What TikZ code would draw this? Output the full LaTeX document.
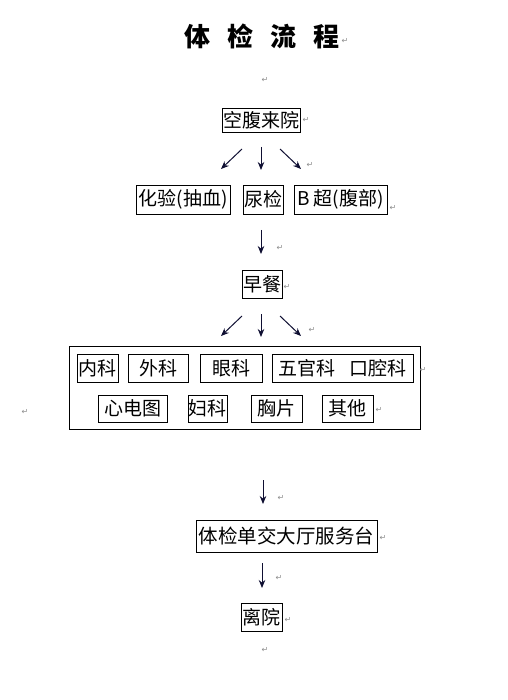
\documentclass[tikz,border=0pt]{standalone}
\usepackage{fontspec}
\setmainfont{Noto Sans CJK SC}
\newfontfamily\cjk{Noto Sans CJK SC}
\newfontfamily\parafont{DejaVu Sans}
\usetikzlibrary{arrows.meta}
\definecolor{arrowNavy}{RGB}{15, 15, 50}
\definecolor{markGray}{RGB}{140, 140, 140}

\begin{document}
\begin{tikzpicture}[x=1pt, y=-1pt,
    stepbox/.style={draw, line width=0.9pt, inner sep=0pt, font=\cjk\fontsize{19}{19}\selectfont},
    flow/.style={arrowNavy, line width=1pt, -{Stealth[length=8pt, width=6.5pt]}},
    retmark/.style={markGray, inner sep=0pt, font=\parafont\fontsize{8}{8}\selectfont}]
      \useasboundingbox (0,0) rectangle (507,700);

      % Title
      \node[inner sep=0pt, font=\cjk\bfseries\fontsize{26}{26}\selectfont] (title) at (262,36)
        {体\hspace{17pt}检\hspace{17pt}流\hspace{17pt}程};

      % Arrival and first tests
      \node[stepbox, minimum width=78pt, minimum height=24pt] (arrive) at (261,120) {空腹来院};
      \node[stepbox, minimum width=94pt, minimum height=29pt] (blood) at (183,199.5) {化验(抽血)};
      \node[stepbox, minimum width=40pt, minimum height=29pt] (urine) at (263,199.5) {尿检};
      \node[stepbox, minimum width=93pt, minimum height=29pt] (bscan) at (340.5,199.5) {B 超(腹部)};

      % Breakfast
      \node[stepbox, minimum width=40pt, minimum height=28pt] (meal) at (262,284) {早餐};

      % Departments
      \node[draw, line width=0.9pt, minimum width=351pt, minimum height=83pt] (dept) at (244.5,387.5) {};
      \node[stepbox, minimum width=41pt, minimum height=28pt] (inner) at (97.5,368) {内科};
      \node[stepbox, minimum width=60pt, minimum height=28pt] (surg) at (158,368) {外科};
      \node[stepbox, minimum width=62pt, minimum height=28pt] (eye) at (231,368) {眼科};
      \node[stepbox, minimum width=141pt, minimum height=28pt] (ent) at (342.5,368) {五官科\hspace{14pt}口腔科};
      \node[stepbox, minimum width=69pt, minimum height=27pt] (ecg) at (132.5,408.5) {心电图};
      \node[stepbox, minimum width=39pt, minimum height=27pt] (gyn) at (207.5,408.5) {妇科};
      \node[stepbox, minimum width=51pt, minimum height=27pt] (xray) at (276.5,408.5) {胸片};
      \node[stepbox, minimum width=51pt, minimum height=27pt] (other) at (347.5,408.5) {其他};

      % Hand in and leave
      \node[stepbox, minimum width=181pt, minimum height=32pt, font=\cjk\fontsize{19.5}{19.5}\selectfont] (desk) at (286.5,536) {体检单交大厅服务台};
      \node[stepbox, minimum width=41pt, minimum height=28pt] (leave) at (261.5,617) {离院};

      % Arrow ends
      \coordinate (fanAl) at (242,149);  \coordinate (fanBl) at (221,169);
      \coordinate (fanAm) at (261,147);  \coordinate (fanBm) at (261,170);
      \coordinate (fanAr) at (280,149);  \coordinate (fanBr) at (301,169);
      \coordinate (downA) at (261,230);  \coordinate (downB) at (261,254);
      \coordinate (fanCl) at (242,316);  \coordinate (fanDl) at (221,336);
      \coordinate (fanCm) at (261,314);  \coordinate (fanDm) at (261,337);
      \coordinate (fanCr) at (280,316);  \coordinate (fanDr) at (301,336);
      \coordinate (downC) at (263,480);  \coordinate (downD) at (263,504);
      \coordinate (downE) at (262,563);  \coordinate (downF) at (262,588);

      \draw[flow] (fanAl) -- (fanBl);
      \draw[flow] (fanAm) -- (fanBm);
      \draw[flow] (fanAr) -- (fanBr);
      \draw[flow] (downA) -- (downB);
      \draw[flow] (fanCl) -- (fanDl);
      \draw[flow] (fanCm) -- (fanDm);
      \draw[flow] (fanCr) -- (fanDr);
      \draw[flow] (downC) -- (downD);
      \draw[flow] (downE) -- (downF);

      % Paragraph marks
      \foreach \px/\py [count=\i] in {345/41, 265/80, 306/120, 310/165, 393/208, 280/248,
          287/287, 312/330, 423/370, 379/410, 25/412, 281/498, 383/538, 279/578, 288/620, 265/650}
        \node[retmark] (ret\i) at (\px,\py) {↵};
    \end{tikzpicture}
\end{document}
